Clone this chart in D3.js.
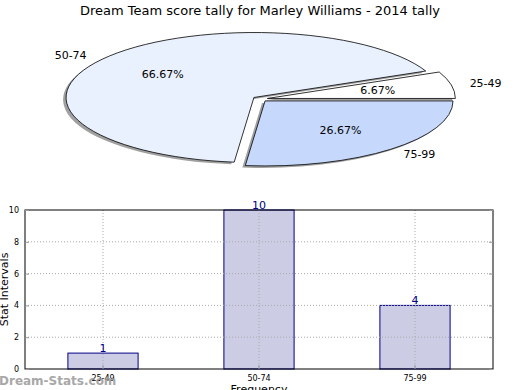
<!DOCTYPE html>
<meta charset="utf-8">
<style>
    body {
        margin: 0;
        background: #fff;
        font-family: "DejaVu Sans", sans-serif;
    }
</style>

<body>
    <script src="https://d3js.org/d3.v7.min.js"></script>
    <script>

        var categories = ["25-49", "50-74", "75-99"];
        var counts = [1, 10, 4];
        var pieColors = ["#ffffff", "#eaf1fe", "#c6d9fd"];
        var yTicks = [0, 2, 4, 6, 8, 10];

        var title = "Dream Team score tally for Marley Williams - 2014 tally";

        var width = 520, height = 390;

        var svg = d3.select("body").append("svg")
            .attr("width", width)
            .attr("height", height);

        svg.append("text")
            .attr("x", 260)
            .attr("y", 15)
            .attr("text-anchor", "middle")
            .style("font-size", "13px")
            .text(title);

        // ---- pie (squashed, exploded, with shadow) ----
        var cx = 260, cy = 99, rx = 188, ry = 65, explode = 0.04;
        var total = d3.sum(counts);

        // counter-clockwise from 3 o'clock like matplotlib
        var pie = d3.pie().sort(null)
            .startAngle(Math.PI / 2)
            .endAngle(Math.PI / 2 - 2 * Math.PI);
        var arcs = pie(counts);

        var arc = d3.arc().innerRadius(0).outerRadius(1);

        function mid(d) {
            var a = (d.startAngle + d.endAngle) / 2;
            return [Math.sin(a), -Math.cos(a)];
        }

        var pieG = svg.append("g");

        // shadows first
        pieG.selectAll(".shadow")
            .data(arcs)
            .enter().append("path")
            .attr("class", "shadow")
            .attr("transform", function (d) {
                var m = mid(d);
                return "translate(" + (cx + m[0] * explode * rx - 3) + "," + (cy + m[1] * explode * ry + 2) + ") scale(" + rx + "," + ry + ")";
            })
            .attr("d", arc)
            .style("fill", "#777")
            .style("opacity", 0.7);

        pieG.selectAll(".slice")
            .data(arcs)
            .enter().append("path")
            .attr("class", "slice")
            .attr("transform", function (d) {
                var m = mid(d);
                return "translate(" + (cx + m[0] * explode * rx) + "," + (cy + m[1] * explode * ry) + ") scale(" + rx + "," + ry + ")";
            })
            .attr("d", arc)
            .attr("vector-effect", "non-scaling-stroke")
            .style("fill", function (d, i) { return pieColors[i]; })
            .style("stroke", "#000")
            .style("stroke-width", 0.8);

        pieG.selectAll(".plabel")
            .data(arcs)
            .enter().append("text")
            .attr("class", "plabel")
            .attr("x", function (d) { var m = mid(d); return cx + m[0] * (1.1 + explode) * rx; })
            .attr("y", function (d) { var m = mid(d); return cy + m[1] * (1.1 + explode) * ry; })
            .attr("dy", ".35em")
            .attr("text-anchor", function (d) { return mid(d)[0] < 0 ? "end" : "start"; })
            .style("font-size", "11px")
            .text(function (d, i) { return categories[i]; });

        pieG.selectAll(".pct")
            .data(arcs)
            .enter().append("text")
            .attr("class", "pct")
            .attr("x", function (d) { var m = mid(d); return cx + m[0] * (0.6 + explode) * rx; })
            .attr("y", function (d) { var m = mid(d); return cy + m[1] * (0.6 + explode) * ry; })
            .attr("dy", ".35em")
            .attr("text-anchor", "middle")
            .style("font-size", "11px")
            .text(function (d) { return (d.value / total * 100).toFixed(2) + "%"; });

        // ---- bar chart ----
        var pLeft = 25, pRight = 493, pTop = 210, pBottom = 369;

        var x = d3.scaleBand().domain(categories).range([pLeft, pRight]);
        var y = d3.scaleLinear().domain([0, 10]).range([pBottom, pTop]);
        var barW = x.bandwidth() * 0.45;

        var barG = svg.append("g");

        barG.selectAll(".bar")
            .data(counts)
            .enter().append("rect")
            .attr("class", "bar")
            .attr("x", function (d, i) { return x(categories[i]) + x.bandwidth() / 2 - barW / 2; })
            .attr("y", function (d) { return y(d); })
            .attr("width", barW)
            .attr("height", function (d) { return y(0) - y(d); })
            .style("fill", "#ccccE5")
            .style("stroke", "#000088")
            .style("stroke-width", 1);

        // grid
        barG.selectAll(".hgrid")
            .data(yTicks.slice(1, -1))
            .enter().append("line")
            .attr("x1", pLeft).attr("x2", pRight)
            .attr("y1", function (d) { return y(d); })
            .attr("y2", function (d) { return y(d); })
            .style("stroke", "#aaa")
            .style("stroke-dasharray", "1,2");

        barG.selectAll(".vgrid")
            .data(categories)
            .enter().append("line")
            .attr("x1", function (d) { return x(d) + x.bandwidth() / 2; })
            .attr("x2", function (d) { return x(d) + x.bandwidth() / 2; })
            .attr("y1", pTop).attr("y2", pBottom)
            .style("stroke", "#aaa")
            .style("stroke-dasharray", "1,2");

        // frame
        barG.append("rect")
            .attr("x", pLeft).attr("y", pTop)
            .attr("width", pRight - pLeft).attr("height", pBottom - pTop)
            .style("fill", "none")
            .style("stroke", "#000")
            .style("stroke-width", 1);

        var yAxis = d3.axisLeft(y).tickValues(yTicks).tickSize(-4).tickPadding(6);
        barG.append("g")
            .attr("transform", "translate(" + pLeft + ",0)")
            .call(yAxis)
            .call(function (g) {
                g.select(".domain").remove();
                g.selectAll("text").style("font-size", "8px").style("font-family", "DejaVu Sans");
                g.selectAll("line").style("stroke", "#999");
            });

        var yAxisR = d3.axisRight(y).tickValues(yTicks).tickSize(-4).tickFormat("");
        barG.append("g")
            .attr("transform", "translate(" + pRight + ",0)")
            .call(yAxisR)
            .call(function (g) {
                g.select(".domain").remove();
                g.selectAll("line").style("stroke", "#999");
            });

        var xAxis = d3.axisBottom(x).tickSize(-4).tickPadding(6);
        barG.append("g")
            .attr("transform", "translate(0," + pBottom + ")")
            .call(xAxis)
            .call(function (g) {
                g.select(".domain").remove();
                g.selectAll("text").style("font-size", "8px").style("font-family", "DejaVu Sans");
                g.selectAll("line").style("stroke", "#999");
            });

        barG.selectAll(".val")
            .data(counts)
            .enter().append("text")
            .attr("x", function (d, i) { return x(categories[i]) + x.bandwidth() / 2; })
            .attr("y", function (d) { return y(d) - 1; })
            .attr("text-anchor", "middle")
            .style("font-size", "11px")
            .style("fill", "#000088")
            .text(function (d) { return d; });

        svg.append("text")
            .attr("transform", "translate(8," + ((pTop + pBottom) / 2) + ") rotate(-90)")
            .attr("text-anchor", "middle")
            .style("font-size", "11px")
            .text("Stat Intervals");

        svg.append("text")
            .attr("x", (pLeft + pRight) / 2)
            .attr("y", 393)
            .attr("text-anchor", "middle")
            .style("font-size", "11px")
            .text("Frequency");

        svg.append("text")
            .attr("x", -1)
            .attr("y", 385)
            .style("font-size", "12px")
            .style("font-weight", "bold")
            .style("fill", "#999")
            .style("opacity", 0.85)
            .text("Dream-Stats.com");

    </script>
</body>
